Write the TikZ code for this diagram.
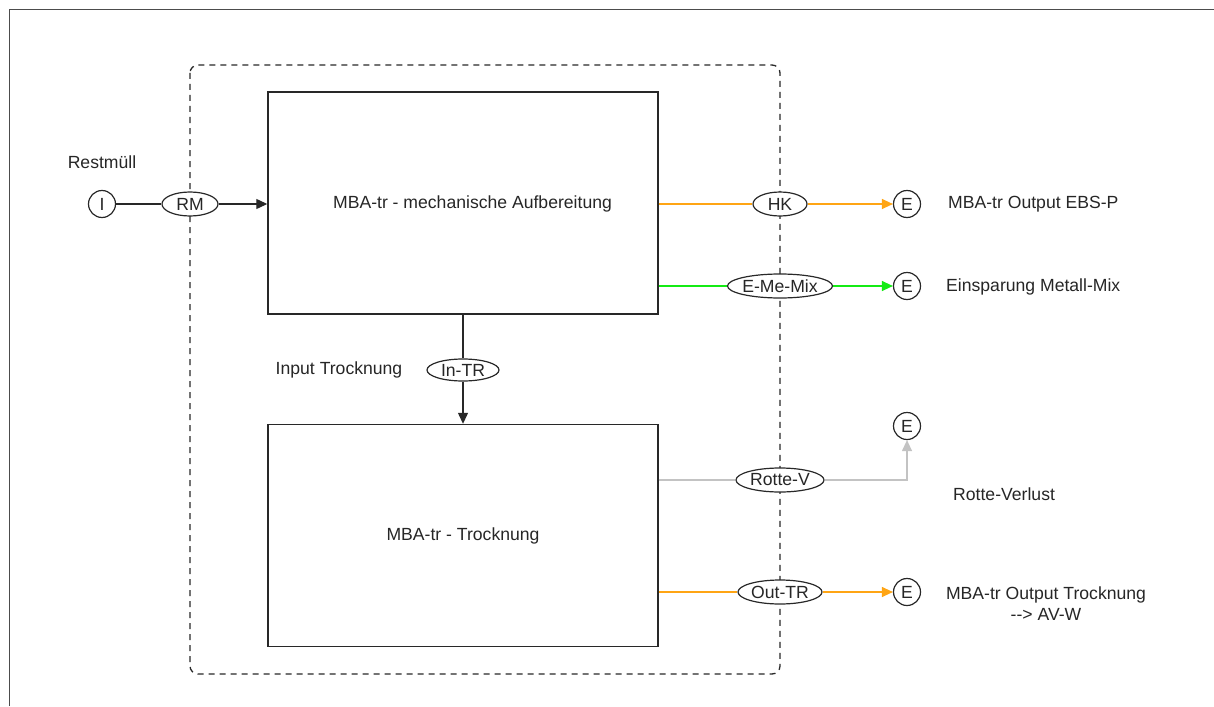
\documentclass[tikz,border=0pt]{standalone}
\usepackage{fontspec}
\setmainfont{Liberation Sans}
\usetikzlibrary{arrows.meta,shapes.geometric}
\definecolor{lineclr}{RGB}{40,40,40}
\definecolor{orangeclr}{RGB}{255,165,20}
\definecolor{greenclr}{RGB}{20,235,20}
\definecolor{grayclr}{RGB}{195,195,195}
\begin{document}
\begin{tikzpicture}[x=1pt,y=-1pt,
  every node/.style={font=\fontsize{17.6}{21}\selectfont, text=black!85},
  procbox/.style={draw=lineclr, line width=1.4pt, rectangle, minimum width=390pt, minimum height=222pt, inner sep=0pt},
  endpt/.style={draw=lineclr, line width=1.2pt, circle, minimum size=27pt, inner sep=0pt, fill=white},
  flow/.style={draw=lineclr, line width=1.2pt, ellipse, minimum height=24pt, inner xsep=-14pt, inner ysep=-3pt, fill=white},
  lbl/.style={inner sep=0pt},
  conn/.style={line width=1.2pt, draw=lineclr},
  tip/.style={-{Triangle[length=11pt,width=10pt]}},
]
\useasboundingbox (0,0) rectangle (1214,706);
% frame
\draw[line width=1.5pt, black!70] (9.5,706) -- (9.5,9.5) -- (1214,9.5);
% system boundary
\draw[lineclr, line width=1.3pt, dash pattern=on 6pt off 5pt, rounded corners=8pt] (190,65) rectangle (780,674);
% boxes
\node[procbox] (b1) at (463,203) {};
\node[procbox] (b2) at (463,535.5) {};
\node[lbl] (b1t) at (472.5,204) {MBA-tr - mechanische Aufbereitung};
\node[lbl] (b2t) at (463,536) {MBA-tr - Trocknung};
% input
\node[endpt] (I) at (102,204) {I};
\node[flow, minimum width=56pt] (RM) at (190,204) {RM};
\node[lbl] (rest) at (102,162) {Restmüll};
\draw[conn] (I) -- (RM);
\draw[conn, tip] (RM.east) -- (RM.east -| b1.west);
% HK
\node[endpt] (E1) at (907,204) {E};
\node[flow, minimum width=54pt] (HK) at (780,204) {HK};
\draw[conn, draw=orangeclr] (HK.west -| b1.east) -- (HK.west);
\draw[conn, draw=orangeclr, tip] (HK.east) -- (E1.west);
\node[lbl, anchor=west] (t1) at (948,204) {MBA-tr Output EBS-P};
% E-Me-Mix
\node[endpt] (E2) at (907,286) {E};
\node[flow, minimum width=105pt] (EM) at (780,286) {E-Me-Mix};
\draw[conn, draw=greenclr] (EM.west -| b1.east) -- (EM.west);
\draw[conn, draw=greenclr, tip] (EM.east) -- (E2.west);
\node[lbl, anchor=west] (t2) at (946,287) {Einsparung Metall-Mix};
% In-TR
\node[flow, minimum width=72pt, minimum height=22pt] (IT) at (463,370) {In-TR};
\draw[conn] (b1.south) -- (IT.north);
\draw[conn, tip] (IT.south) -- (b2.north);
\node[lbl] (t3) at (339,370) {Input Trocknung};
% Rotte-V
\node[endpt] (E3) at (907,426) {E};
\node[flow, minimum width=88pt] (RV) at (780,480) {Rotte-V};
\draw[conn, draw=grayclr] (RV.west -| b2.east) -- (RV.west);
\draw[conn, draw=grayclr, tip] (RV.east) -- (E3 |- RV) -- (E3.south);
\node[lbl, anchor=west] (t4) at (953,494) {Rotte-Verlust};
% Out-TR
\node[endpt] (E4) at (907,592) {E};
\node[flow, minimum width=84pt] (OT) at (780,592) {Out-TR};
\draw[conn, draw=orangeclr] (OT.west -| b2.east) -- (OT.west);
\draw[conn, draw=orangeclr, tip] (OT.east) -- (E4.west);
\node[lbl, align=center] (t5) at (1046,604) {MBA-tr Output Trocknung\\-{}-> AV-W};
\end{tikzpicture}
\end{document}
